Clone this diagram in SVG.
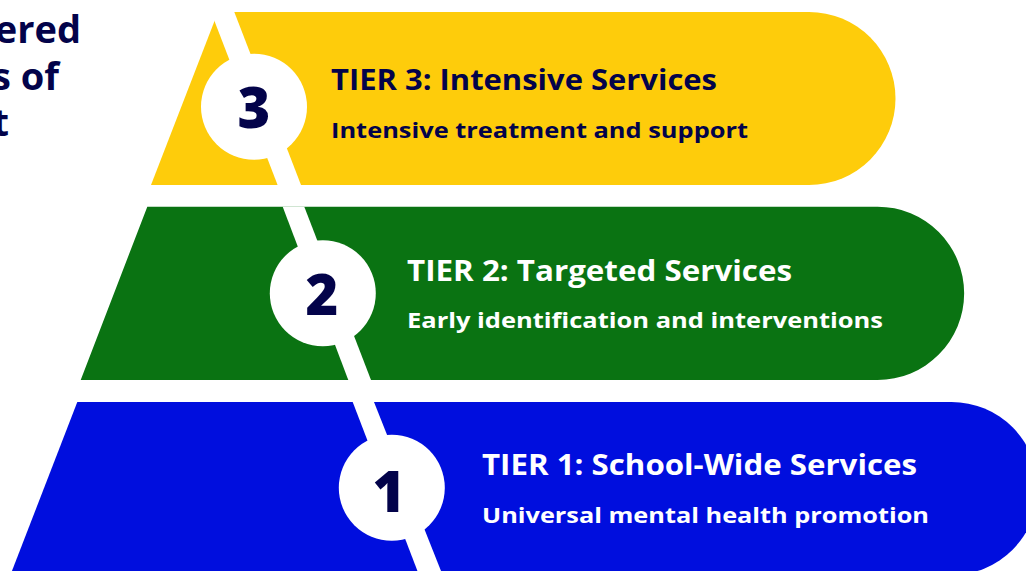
<svg xmlns="http://www.w3.org/2000/svg" width="1026" height="571" viewBox="0 0 1026 571">
  <style>
    .navy { fill: #03034A; }
    .white { fill: #FFFFFF; }
    .head { font-family: "Open Sans", "Noto Sans", "Liberation Sans", sans-serif; font-weight: 700; font-size: 38px; }
    .title { font-family: "Open Sans", "Noto Sans", "Liberation Sans", sans-serif; font-weight: 700; font-size: 28px; }
    .sub { font-family: "Open Sans", "Noto Sans", "Liberation Sans", sans-serif; font-weight: 700; font-size: 22px; }
    .num { font-family: "Open Sans", "Noto Sans", "Liberation Sans", sans-serif; font-weight: 800; font-size: 56px; text-anchor: middle; }
    .stripe { fill: #FFFFFF; }
    .badge { fill: #FFFFFF; }
  </style>
  <rect width="1026" height="571" fill="#FFFFFF"/>

  <g id="heading">
    <text class="head navy" x="81" y="43" text-anchor="end">ered</text>
    <text class="head navy" x="59" y="90" text-anchor="end">s of</text>
    <text class="head navy" x="9" y="136" text-anchor="end">t</text>
  </g>

  <g id="tier3">
    <path d="M151,185 L218,12 L809,12 A86.5,86.5 0 0 1 809,185 Z" fill="#FECC0B"/>
  </g>
  <g id="tier2">
    <path d="M80.7,380 L147.3,206.7 L877.5,206.7 A86.65,86.65 0 0 1 877.5,380 Z" fill="#0A7312"/>
  </g>
  <g id="tier1">
    <path d="M10.4,575 L77.3,402 L951.5,402 A86.5,86.5 0 0 1 951.5,575 Z" fill="#000EDE"/>
  </g>

  <g id="connectors">
    <polygon class="stripe" points="211,12 234.3,12 301,185 277.6,185"/>
    <polygon class="stripe" points="282.7,206.7 304.3,206.7 371,380 348.3,380"/>
    <polygon class="stripe" points="352.7,402 374,402 442.6,575 419,575"/>
  </g>

  <g id="badge3">
    <circle class="badge" cx="254" cy="106.7" r="53"/>
    <text class="num navy" x="254" y="128">3</text>
  </g>
  <g id="badge2">
    <circle class="badge" cx="322.8" cy="293.3" r="53"/>
    <text class="num navy" x="322" y="315">2</text>
  </g>
  <g id="badge1">
    <circle class="badge" cx="391.8" cy="487.8" r="53"/>
    <text class="num navy" x="389" y="511.7">1</text>
  </g>

  <g id="label3">
    <text class="title navy" x="331" y="90" textLength="386" lengthAdjust="spacingAndGlyphs">TIER 3: Intensive Services</text>
    <text class="sub navy" x="331" y="138.3" textLength="417" lengthAdjust="spacingAndGlyphs">Intensive treatment and support</text>
  </g>
  <g id="label2">
    <text class="title white" x="407" y="281" textLength="385" lengthAdjust="spacingAndGlyphs">TIER 2: Targeted Services</text>
    <text class="sub white" x="407" y="328.3" textLength="476" lengthAdjust="spacingAndGlyphs">Early identification and interventions</text>
  </g>
  <g id="label1">
    <text class="title white" x="482" y="475" textLength="435" lengthAdjust="spacingAndGlyphs">TIER 1: School-Wide Services</text>
    <text class="sub white" x="482" y="523.3" textLength="447" lengthAdjust="spacingAndGlyphs">Universal mental health promotion</text>
  </g>
</svg>
